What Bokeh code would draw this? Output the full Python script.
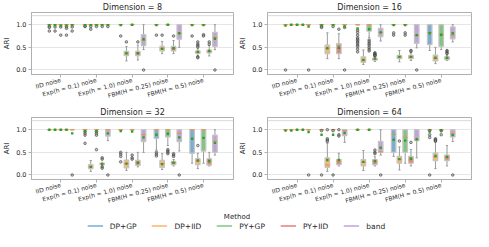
import math
from bokeh.plotting import figure
from bokeh.layouts import column, row
from bokeh.models import (Range1d, FixedTicker, NumeralTickFormatter, Span, Legend,
                          LegendItem, ColumnDataSource)
from bokeh.embed import file_html
from bokeh.resources import INLINE

NOISES = ["IID noise", "Exp(h = 0.1) noise", "Exp(h = 1.0) noise",
          "FBM(H = 0.25) noise", "FBM(H = 0.5) noise"]
METHODS = ["DP+GP", "DP+IID", "PY+GP", "PY+IID", "band"]
COLORS = ["#79add2", "#ffb26e", "#80c680", "#e67d7e", "#bfa4d7"]
DIMS = [8, 16, 32, 64]

# ---- Dimension = 8 : rows = noise, cols = method ----
D8_Q1 = [[1, 1, 1, 1, 1], [1, 1, 1, 1, 1], [1, .32, 1, .32, .54], [1, .42, 1, .42, .68], [1, .37, 1, .38, .52]]
D8_MED = [[1, 1, 1, 1, 1], [1, 1, 1, 1, 1], [1, .36, 1, .37, .66], [1, .47, 1, .48, .81], [1, .39, 1, .41, .72]]
D8_Q3 = [[1, 1, 1, 1, 1], [1, 1, 1, 1, 1], [1, .41, 1, .41, .78], [1, .52, 1, .52, 1], [1, .42, 1, .44, .83]]
D8_LO = [[1, 1, 1, 1, 1], [1, 1, 1, 1, 1], [1, .20, 1, .22, .45], [1, .36, 1, .36, .50], [1, .31, 1, .31, .45]]
D8_HI = [[1, 1, 1, 1, 1], [1, 1, 1, 1, 1], [1, .52, 1, .55, 1], [1, .63, 1, .65, 1], [1, .47, 1, .54, 1]]
D8_MEAN = [[.99, .99, .98, .98, .99], [.99, .99, .99, .99, .99], [.99, .37, 1, .37, .68], [.99, .47, 1, .48, .81], [.99, .40, .99, .42, .69]]
D8_OUT = [[[.96, .94, .86], [.95, .86], [.95, .77], [.96, .92, .77], [.95, .86]],
          [[.97, .96], [.96, .90], [.96], [.96], [.96]],
          [[.75], [.62], [], [.62], [0.0]],
          [[.77], [.77], [], [.75], []],
          [[.75], [.62, .57, .54, .51, .29, .27], [.78, .75], [.62, .57], [0.0]]]

# ---- Dimension = 16 ----
D16_Q1 = [[1, 1, 1, 1, 1], [1, .36, 1, .36, 1], [1, .17, .86, .22, .74], [1, .25, 1, .25, .59], [.56, .20, .52, .23, .69]]
D16_MED = [[1, 1, 1, 1, 1], [1, .48, 1, .48, 1], [1, .22, 1, .24, .83], [1, .29, 1, .29, .76], [.83, .25, .78, .26, .77]]
D16_Q3 = [[1, 1, 1, 1, 1], [1, .55, 1, .58, 1], [1, .29, 1, .26, .92], [1, .32, 1, .32, 1], [1, .33, 1, .29, .95]]
D16_LO = [[1, 1, 1, 1, 1], [1, .25, 1, .25, 1], [1, .12, .72, .19, .64], [1, .18, 1, .21, .49], [.43, .14, .45, .21, .62]]
D16_HI = [[1, 1, 1, 1, 1], [1, .82, 1, .80, 1], [1, .44, 1, .30, 1], [1, .43, 1, .38, 1], [1, .50, 1, .33, 1]]
D16_MEAN = [[.98, 1, 1, 1, .96], [.99, .48, .99, .49, .96], [.92, .22, .90, .25, .83], [.99, .29, .99, .29, .77], [.81, .27, .78, .27, .81]]
D16_OUT = [[[0.0], [], [], [], [0.0]],
           [[.96, .94], [], [.96], [.90], [.94, 0.0]],
           [[.88, .83, .77, .71, .68, .65, .62, .59, .55, .52, .46, .40], [],
            [.66, .62, .58, .55, .50, .46, .42], [.38, .36, .35, .33, .32, .31], []],
           [[.82, .77], [], [.82, .77], [.43, .41], [0.0]],
           [[], [], [], [.43, .41, .38, .36], []]]

# ---- Dimension = 32 ----
D32_Q1 = [[1, 1, 1, 1, 1], [1, .14, 1, .23, .86], [1, .16, 1, .21, .74], [.81, .17, .84, .23, .74], [.48, .23, .53, .22, .50]]
D32_MED = [[1, 1, 1, 1, 1], [1, .18, 1, .245, 1], [1, .25, 1, .28, .89], [1, .25, 1, .27, .92], [1, .31, 1, .30, .75]]
D32_Q3 = [[1, 1, 1, 1, 1], [1, .23, 1, .26, 1], [1, .33, 1, .32, 1], [1, .32, 1, .30, 1], [1, .36, 1, .36, .88]]
D32_LO = [[1, 1, 1, 1, 1], [1, .08, 1, .20, .76], [1, .10, 1, .18, .50], [.55, .12, .65, .20, .53], [.26, .14, .26, .20, .44]]
D32_HI = [[1, 1, 1, 1, 1], [1, .32, 1, .28, 1], [1, .50, 1, .50, 1], [1, .47, 1, .34, 1], [1, .48, 1, .50, 1]]
D32_MEAN = [[1, 1, 1, 1, .92], [.97, .18, .97, .24, .92], [.97, .25, .96, .27, .83], [.89, .24, .91, .27, .83], [.80, .32, .82, .31, .71]]
D32_OUT = [[[], [], [], [], [0.0]],
           [[.96, .92, .88, .70], [], [.96, .92, .88, .56], [.38, .35, .18, .15], [0.0]],
           [[.50, .46, .41, .29], [], [.44, .38, .35], [], []],
           [[.50, .46, .42], [], [.56, .53, .50, .47], [.47, .44, .41], [0.0]],
           [[], [.65], [], [], []]]

# ---- Dimension = 64 ----
D64_Q1 = [[1, 1, 1, 1, 1], [1, .17, 1, .23, .87], [1, .20, 1, .23, .50], [.50, .26, .50, .26, .76], [1, .32, 1, .32, .84]]
D64_MED = [[1, 1, 1, 1, 1], [1, .22, 1, .30, .98], [1, .28, 1, .30, .51], [.90, .35, .83, .33, .78], [1, .40, 1, .38, .92]]
D64_Q3 = [[1, 1, 1, 1, 1], [1, .38, 1, .34, 1], [1, .34, 1, .34, .74], [1, .41, 1, .41, 1], [1, .48, 1, .44, 1]]
D64_LO = [[1, 1, 1, 1, 1], [1, .08, 1, .20, .72], [1, .10, 1, .20, .44], [.41, .11, .26, .20, .38], [1, .14, 1, .20, .74]]
D64_HI = [[1, 1, 1, 1, 1], [1, .70, 1, .48, 1], [1, .54, 1, .40, 1], [1, .62, 1, .56, 1], [1, .72, 1, .65, 1]]
D64_MEAN = [[.98, .98, 1, 1, .95], [.89, .33, .89, .33, .93], [1, .29, 1, .31, .60], [.78, .35, .76, .36, .79], [.96, .42, .97, .40, .88]]
D64_OUT = [[[], [], [], [], [0.0]],
           [[.98, 0.0], [1.0, .80, .77, .74], [.98, 0.0], [1.0, .89, .86], []],
           [[], [], [], [.55, .50, .47], [0.0]],
           [[], [.75], [], [.72], []],
           [[.98, .89, .83, 0.0], [.80, .78, .76, .75], [.98, .89], [], [0.0]]]

STATS = {8: (D8_Q1, D8_MED, D8_Q3, D8_LO, D8_HI, D8_MEAN, D8_OUT),
         16: (D16_Q1, D16_MED, D16_Q3, D16_LO, D16_HI, D16_MEAN, D16_OUT),
         32: (D32_Q1, D32_MED, D32_Q3, D32_LO, D32_HI, D32_MEAN, D32_OUT),
         64: (D64_Q1, D64_MED, D64_Q3, D64_LO, D64_HI, D64_MEAN, D64_OUT)}

FONT = "DejaVu Sans"
TXT = "#262626"
OFFS = [-0.32, -0.16, 0.0, 0.16, 0.32]
BW = 0.125


def make_panel(dim, width, height, left, right, top, bottom):
    q1s, meds, q3s, los, his, means, outs = STATS[dim]
    p = figure(width=width, height=height, x_range=Range1d(-0.82, 4.84),
               y_range=Range1d(-0.1, 1.27), output_backend="svg", toolbar_location=None,
               title=f"Dimension = {dim}", min_border_left=left, min_border_right=right,
               min_border_top=top, min_border_bottom=bottom)
    box = dict(l=[], r=[], b=[], t=[], c=[])
    wh = dict(x=[], y0=[], y1=[])
    cap = dict(x0=[], x1=[], y=[])
    med = dict(x0=[], x1=[], y=[])
    mn = dict(x=[], y=[])
    fl = dict(x=[], y=[])
    for g in range(5):
        for m in range(5):
            x = g + OFFS[m]
            box["l"].append(x - BW / 2); box["r"].append(x + BW / 2)
            box["b"].append(q1s[g][m]); box["t"].append(q3s[g][m]); box["c"].append(COLORS[m])
            wh["x"] += [x, x]; wh["y0"] += [q1s[g][m], q3s[g][m]]; wh["y1"] += [los[g][m], his[g][m]]
            cap["x0"] += [x - BW / 4, x - BW / 4]; cap["x1"] += [x + BW / 4, x + BW / 4]
            cap["y"] += [los[g][m], his[g][m]]
            med["x0"].append(x - BW / 2); med["x1"].append(x + BW / 2); med["y"].append(meds[g][m])
            mn["x"].append(x); mn["y"].append(means[g][m])
            for o in outs[g][m]:
                fl["x"].append(x); fl["y"].append(o)
    p.add_layout(Span(location=1.2, dimension="width", line_color="#d9d9d9", line_width=1))
    p.segment(x0="x", y0="y0", x1="x", y1="y1", source=ColumnDataSource(wh),
              line_color="#9a9a9a", line_width=1)
    p.segment(x0="x0", y0="y", x1="x1", y1="y", source=ColumnDataSource(cap),
              line_color="#9a9a9a", line_width=1)
    p.quad(left="l", right="r", bottom="b", top="t", source=ColumnDataSource(box),
           fill_color="c", fill_alpha=1.0, line_color="#c4c4c4", line_width=1.3)
    p.segment(x0="x0", y0="y", x1="x1", y1="y", source=ColumnDataSource(med),
              line_color="#f08a3c", line_width=1)
    p.scatter(x="x", y="y", source=ColumnDataSource(fl), size=2.6, marker="circle",
              fill_color="#8a8a8a", fill_alpha=0.5, line_color="#3a3a3a", line_width=0.6)
    p.scatter(x="x", y="y", source=ColumnDataSource(mn), size=2.4, marker="square",
              fill_color="#2ca02c", line_color=None)

    p.title.text_font = FONT
    p.title.text_font_size = "8px"
    p.title.text_font_style = "normal"
    p.title.text_color = TXT
    p.title.align = "center"
    p.title.standoff = 1
    p.title.offset = 0

    p.xaxis.ticker = FixedTicker(ticks=[0, 1, 2, 3, 4])
    p.xaxis.major_label_overrides = {i: n for i, n in enumerate(NOISES)}
    p.xaxis.major_label_orientation = math.radians(15)
    p.yaxis.ticker = FixedTicker(ticks=[0, 0.5, 1.0])
    p.yaxis.formatter = NumeralTickFormatter(format="0.0")
    p.yaxis.axis_label = "ARI"
    p.yaxis.axis_label_text_font_size = "7px"
    p.yaxis.axis_label_text_font_style = "normal"
    p.yaxis.axis_label_text_font = FONT
    p.yaxis.axis_label_text_color = TXT
    p.yaxis.axis_label_standoff = 2
    for ax in (p.xaxis, p.yaxis):
        ax.major_label_text_font = FONT
        ax.major_label_text_color = TXT
        ax.major_label_standoff = 2
        ax.major_tick_out = 3
        ax.major_tick_in = 0
        ax.minor_tick_line_color = None
        ax.axis_line_color = "#b0b0b0"
        ax.major_tick_line_color = "#b0b0b0"
    p.xaxis.major_label_text_font_size = "6px"
    p.yaxis.major_label_text_font_size = "6.5px"
    p.xgrid.visible = False
    p.ygrid.grid_line_color = "#e6e6e6"
    p.outline_line_color = "#b0b0b0"
    p.background_fill_color = "white"
    return p


p1 = make_panel(8, 236, 105, 21, 3, 10, 27)
p2 = make_panel(16, 237, 105, 21, 2, 10, 27)
p3 = make_panel(32, 236, 105, 21, 3, 10, 27)
p4 = make_panel(64, 237, 105, 21, 2, 10, 27)

leg = figure(width=473, height=21, output_backend="svg", toolbar_location=None,
             x_range=Range1d(0, 1), y_range=Range1d(0, 1), min_border=0, title="Method")
leg.axis.visible = False
leg.grid.visible = False
leg.outline_line_color = None
leg.title.text_font = FONT
leg.title.text_font_size = "7px"
leg.title.text_font_style = "normal"
leg.title.text_color = TXT
leg.title.align = "center"
leg.title.standoff = 0
leg.title.offset = 0
items = []
for name, c in zip(METHODS, COLORS):
    r = leg.line(x=[math.nan, math.nan], y=[math.nan, math.nan], line_color=c, line_width=1.5)
    items.append(LegendItem(label=name, renderers=[r]))
legend = Legend(items=items, orientation="horizontal", location="center",
                border_line_color=None, background_fill_alpha=0, padding=0, margin=0,
                glyph_width=16, glyph_height=8, label_standoff=7, spacing=15,
                label_text_font=FONT, label_text_font_size="7.5px", label_text_color=TXT,
                label_height=8)
leg.add_layout(legend)

layout = column(row(p1, p2), row(p3, p4), leg)
open("out.html", "w").write(file_html(layout, INLINE))
